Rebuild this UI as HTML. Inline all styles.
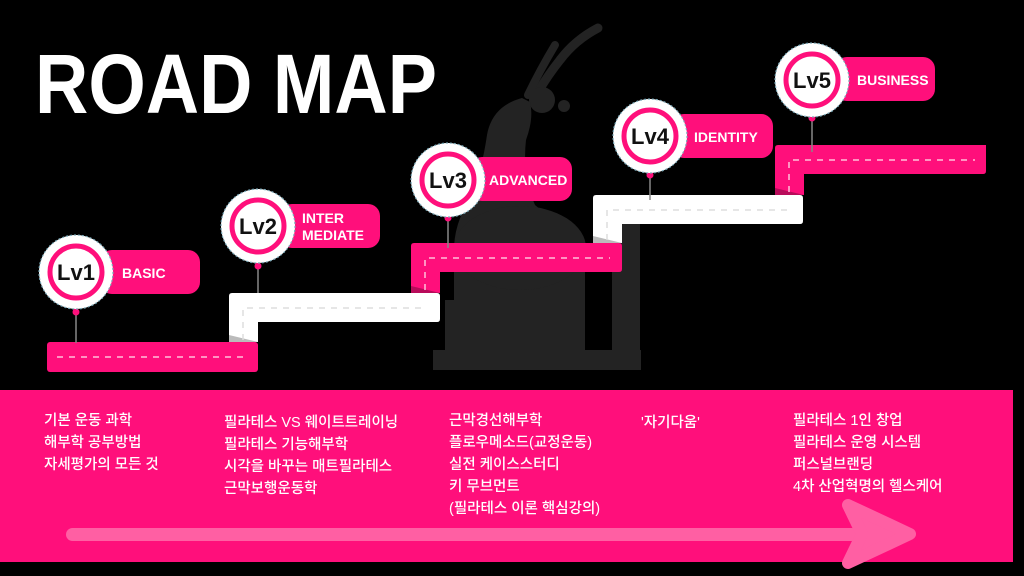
<!DOCTYPE html>
<html><head><meta charset="utf-8"><style>
html,body{margin:0;padding:0;background:#000;}
svg{display:block}
.lv{font-family:"Liberation Sans",sans-serif;font-weight:bold;font-size:22px;fill:#111;text-anchor:middle}
.lb{font-family:"Liberation Sans",sans-serif;font-size:14px;fill:#fff;font-weight:bold}
.kr{font-family:"Liberation Sans","Noto Sans CJK KR",sans-serif;font-size:14.5px;fill:#fff;font-weight:500}
</style></head><body>
<svg width="1024" height="576" viewBox="0 0 1024 576" xmlns="http://www.w3.org/2000/svg">
<rect width="1024" height="576" fill="#000"/>
<text x="35" y="113" font-family="Liberation Sans,sans-serif" font-weight="bold" font-size="84" fill="#fff" textLength="402" lengthAdjust="spacingAndGlyphs">ROAD MAP</text>

<!-- silhouette -->
<g fill="#232323">
<path d="M598 28 Q575 40 560 60 Q548 75 538 92" fill="none" stroke="#232323" stroke-width="9" stroke-linecap="round"/>
<path d="M555 45 Q540 70 528 95" fill="none" stroke="#232323" stroke-width="8" stroke-linecap="round"/>
<circle cx="542" cy="100" r="13"/>
<circle cx="564" cy="106" r="6"/>
<path d="M522 98 Q492 106 487 135 Q482 170 470 200 Q452 225 454 260 L454 352 L585 352 L585 260 Q560 225 535 205 Q522 175 526 140 Q534 118 530 102 Z"/>
<ellipse cx="520" cy="248" rx="66" ry="42"/>
<rect x="433" y="350" width="208" height="20"/>
<rect x="612" y="220" width="28" height="150"/>
<rect x="445" y="300" width="20" height="55"/>
</g>

<!-- step 1 pink -->
<rect x="47" y="342" width="211" height="30" rx="3" fill="#ff0f7b"/>
<line x1="57" y1="357" x2="248" y2="357" stroke="#ffc0da" stroke-width="1.5" stroke-dasharray="6 6"/>
<!-- step 2 white -->
<path d="M232 293 H437 Q440 293 440 296 V319 Q440 322 437 322 H258 V342 H229 V296 Q229 293 232 293 Z" fill="#fff"/>
<path d="M229 335 L258 342 L229 342 Z" fill="#bbb"/>
<path d="M243 340 V308 H425" fill="none" stroke="#ddd" stroke-width="1.5" stroke-dasharray="6 6"/>
<!-- step 3 pink -->
<path d="M414 243 H619 Q622 243 622 246 V269 Q622 272 619 272 H440 V293 H411 V246 Q411 243 414 243 Z" fill="#ff0f7b"/>
<path d="M411 286 L440 293 L411 293 Z" fill="#b80b5a"/>
<path d="M425 290 V258 H610" fill="none" stroke="#ffc0da" stroke-width="1.5" stroke-dasharray="6 6"/>
<!-- step 4 white -->
<path d="M596 195 H800 Q803 195 803 198 V221 Q803 224 800 224 H622 V243 H593 V198 Q593 195 596 195 Z" fill="#fff"/>
<path d="M593 236 L622 243 L593 243 Z" fill="#bbb"/>
<path d="M607 240 V210 H790" fill="none" stroke="#ddd" stroke-width="1.5" stroke-dasharray="6 6"/>
<!-- step 5 pink -->
<path d="M778 145 H986 V171 Q986 174 983 174 H804 V195 H775 V148 Q775 145 778 145 Z" fill="#ff0f7b"/>
<path d="M775 188 L804 195 L775 195 Z" fill="#b80b5a"/>
<path d="M789 192 V160 H975" fill="none" stroke="#ffc0da" stroke-width="1.5" stroke-dasharray="6 6"/>

<!-- Lv1 -->
<rect x="100" y="250" width="100" height="44" rx="12" fill="#ff0f7b"/>
<text class="lb" x="122" y="278">BASIC</text>
<line x1="76" y1="312" x2="76" y2="343" stroke="#888" stroke-width="1.5"/>
<circle cx="76" cy="312" r="3.5" fill="#ff0f7b"/>
<circle cx="76" cy="272" r="37" fill="#fff" stroke="#7aa9b8" stroke-width="1.2" stroke-dasharray="2 2"/>
<circle cx="76" cy="272" r="26" fill="#fff" stroke="#ff0f7b" stroke-width="5"/>
<text class="lv" x="76" y="280">Lv1</text>
<!-- Lv2 -->
<rect x="280" y="204" width="100" height="44" rx="12" fill="#ff0f7b"/>
<text class="lb" x="302" y="223">INTER</text>
<text class="lb" x="302" y="240">MEDIATE</text>
<line x1="258" y1="266" x2="258" y2="293" stroke="#888" stroke-width="1.5"/>
<circle cx="258" cy="266" r="3.5" fill="#ff0f7b"/>
<circle cx="258" cy="226" r="37" fill="#fff" stroke="#7aa9b8" stroke-width="1.2" stroke-dasharray="2 2"/>
<circle cx="258" cy="226" r="26" fill="#fff" stroke="#ff0f7b" stroke-width="5"/>
<text class="lv" x="258" y="234">Lv2</text>
<!-- Lv3 -->
<rect x="470" y="157" width="102" height="44" rx="12" fill="#ff0f7b"/>
<text class="lb" x="489" y="185">ADVANCED</text>
<line x1="448" y1="218" x2="448" y2="248" stroke="#888" stroke-width="1.5"/>
<circle cx="448" cy="218" r="3.5" fill="#ff0f7b"/>
<circle cx="448" cy="180" r="37" fill="#fff" stroke="#7aa9b8" stroke-width="1.2" stroke-dasharray="2 2"/>
<circle cx="448" cy="180" r="26" fill="#fff" stroke="#ff0f7b" stroke-width="5"/>
<text class="lv" x="448" y="188">Lv3</text>
<!-- Lv4 -->
<rect x="672" y="114" width="101" height="44" rx="12" fill="#ff0f7b"/>
<text class="lb" x="694" y="142">IDENTITY</text>
<line x1="650" y1="175" x2="650" y2="200" stroke="#888" stroke-width="1.5"/>
<circle cx="650" cy="175" r="3.5" fill="#ff0f7b"/>
<circle cx="650" cy="136" r="37" fill="#fff" stroke="#7aa9b8" stroke-width="1.2" stroke-dasharray="2 2"/>
<circle cx="650" cy="136" r="26" fill="#fff" stroke="#ff0f7b" stroke-width="5"/>
<text class="lv" x="650" y="144">Lv4</text>
<!-- Lv5 -->
<rect x="835" y="57" width="100" height="44" rx="12" fill="#ff0f7b"/>
<text class="lb" x="857" y="85">BUSINESS</text>
<line x1="812" y1="118" x2="812" y2="152" stroke="#888" stroke-width="1.5"/>
<circle cx="812" cy="118" r="3.5" fill="#ff0f7b"/>
<circle cx="812" cy="80" r="37" fill="#fff" stroke="#7aa9b8" stroke-width="1.2" stroke-dasharray="2 2"/>
<circle cx="812" cy="80" r="26" fill="#fff" stroke="#ff0f7b" stroke-width="5"/>
<text class="lv" x="812" y="88">Lv5</text>

<!-- bottom band -->
<rect x="0" y="390" width="1013" height="172" fill="#ff0f7b"/>
<g class="kr">
<text x="44" y="425">기본 운동 과학</text>
<text x="44" y="447">해부학 공부방법</text>
<text x="44" y="469">자세평가의 모든 것</text>
<text x="224" y="427">필라테스 VS 웨이트트레이닝</text>
<text x="224" y="449">필라테스 기능해부학</text>
<text x="224" y="471">시각을 바꾸는 매트필라테스</text>
<text x="224" y="493">근막보행운동학</text>
<text x="449" y="425">근막경선해부학</text>
<text x="449" y="447">플로우메소드(교정운동)</text>
<text x="449" y="469">실전 케이스스터디</text>
<text x="449" y="491">키 무브먼트</text>
<text x="449" y="513">(필라테스 이론 핵심강의)</text>
<text x="641" y="427">'자기다움'</text>
<text x="793" y="425">필라테스 1인 창업</text>
<text x="793" y="447">필라테스 운영 시스템</text>
<text x="793" y="469">퍼스널브랜딩</text>
<text x="793" y="491">4차 산업혁명의 헬스케어</text>
</g>
<g fill="#ff5fa3">
<rect x="66" y="528" width="792" height="13" rx="6.5"/>
<path d="M848 505 L910 534 L848 563 L862 534 Z" stroke="#ff5fa3" stroke-width="12" stroke-linejoin="round"/>
</g>
<path d="M842 562 L848 563 L910 538 L917 540 L850 576 L840 576 Z" fill="#555" opacity="0"/>
</svg>
</body></html>
